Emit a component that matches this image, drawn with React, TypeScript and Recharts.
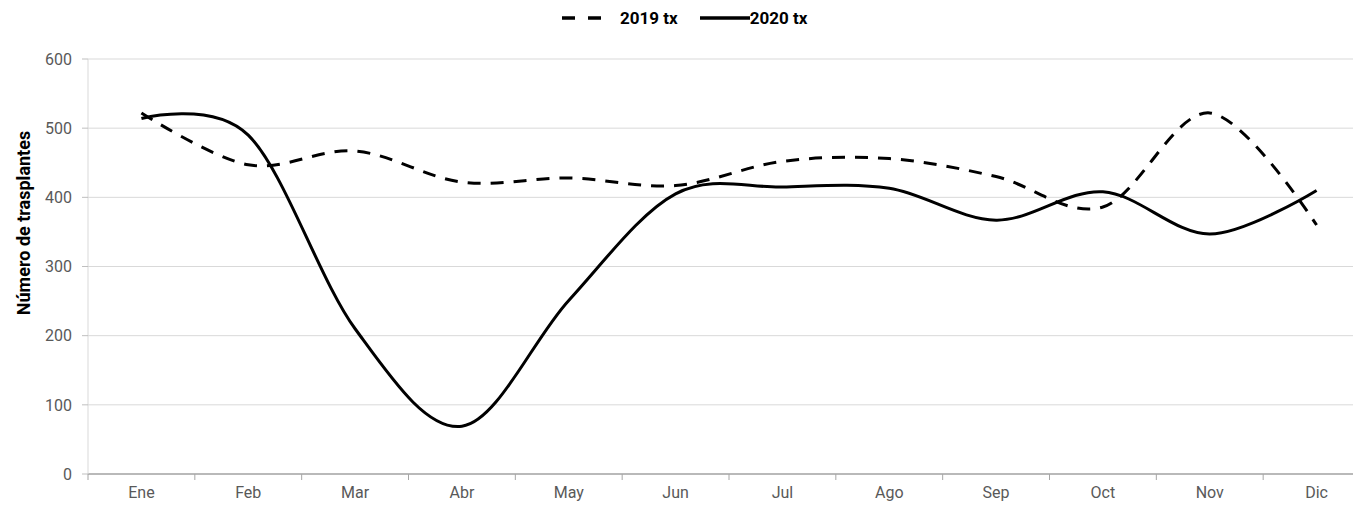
import React from 'react';
import { LineChart, Line, XAxis, YAxis, CartesianGrid, Legend } from 'recharts';

const months = ['Ene', 'Feb', 'Mar', 'Abr', 'May', 'Jun', 'Jul', 'Ago', 'Sep', 'Oct', 'Nov', 'Dic'];
const tx2019 = [522, 447, 467, 422, 428, 417, 452, 456, 430, 386, 522, 360];
const tx2020 = [514, 490, 210, 69, 251, 405, 415, 413, 367, 408, 347, 410];
const yTicks = [0, 100, 200, 300, 400, 500, 600];

const data = months.map((m, i) => ({ month: m, '2019 tx': tx2019[i], '2020 tx': tx2020[i] }));

const CHART_W = 1375;
const CHART_H = 509;
const MARGIN = { top: 59, right: 5, bottom: 0, left: 0 };
const Y_W = 88;
const PLOT_W = CHART_W - MARGIN.left - MARGIN.right - Y_W;
const BAND = PLOT_W / months.length;
const FONT = 'Roboto, "Noto Sans", sans-serif';

// Excel-like smoothed line (catmull-rom style bezier)
const excelSmooth = (context: any) => {
    let x0 = NaN, y0 = NaN, x1 = NaN, y1 = NaN, x2 = NaN, y2 = NaN;
    let pt = 0;
    let line: number = NaN;
    const k = 1 / 6;
    const seg = (x: number, y: number) =>
        context.bezierCurveTo(x1 + k * (x2 - x0), y1 + k * (y2 - y0), x2 + k * (x1 - x), y2 + k * (y1 - y), x2, y2);
    return {
        areaStart() { line = 0; },
        areaEnd() { line = NaN; },
        lineStart() { x0 = x1 = x2 = y0 = y1 = y2 = NaN; pt = 0; },
        lineEnd() {
            if (pt === 2) context.lineTo(x2, y2);
            else if (pt === 3) seg(x1, y1);
            if (line || (line !== 0 && pt === 1)) context.closePath();
            line = 1 - line;
        },
        point(x: number, y: number) {
            x = +x; y = +y;
            switch (pt) {
                case 0: pt = 1; if (line) context.lineTo(x, y); else context.moveTo(x, y); break;
                case 1: pt = 2; x1 = x; y1 = y; break;
                case 2: pt = 3; seg(x, y); break;
                default: seg(x, y); break;
            }
            x0 = x1; x1 = x2; x2 = x;
            y0 = y1; y1 = y2; y2 = y;
        },
    };
};

const XTick = (props: any) => {
    const { x, y, payload, index } = props;
    return (
        <g>
            <line x1={x - BAND / 2} x2={x - BAND / 2} y1={y} y2={y + 6} stroke="#a6a6a6" />
            {index === months.length - 1 && (
                <line x1={x + BAND / 2} x2={x + BAND / 2} y1={y} y2={y + 6} stroke="#a6a6a6" />
            )}
            <text x={x} y={y + 24} textAnchor="middle" fill="#595959" fontSize={16} fontFamily={FONT}>
                {payload.value}
            </text>
        </g>
    );
};

const renderLegend = (props: any) => {
    const { payload } = props;
    return (
        <div style={{ display: 'flex', alignItems: 'center', fontFamily: FONT, fontWeight: 'bold', fontSize: 17, color: '#000' }}>
            {payload.map((entry: any) => {
                const dashed = !!entry.payload.strokeDasharray;
                return (
                    <div key={entry.value} style={{ display: 'flex', alignItems: 'center', marginRight: dashed ? 22 : 0 }}>
                        <svg width={dashed ? 58 : 50} height={10}>
                            <line
                                x1={0}
                                x2={dashed ? 40 : 50}
                                y1={5}
                                y2={5}
                                stroke="#000"
                                strokeWidth={3.5}
                                strokeDasharray={dashed ? '13 13' : undefined}
                            />
                        </svg>
                        <span>{entry.value}</span>
                    </div>
                );
            })}
        </div>
    );
};

export default function App() {
    return (
        <div style={{ position: 'fixed', left: 0, top: 0, width: 1353, height: 509, overflow: 'hidden', background: '#fff' }}>
            <LineChart width={CHART_W} height={CHART_H} data={data} margin={MARGIN}>
                <CartesianGrid vertical={false} stroke="#d9d9d9" />
                <XAxis
                    dataKey="month"
                    height={35}
                    padding={{ left: BAND / 2, right: BAND / 2 }}
                    axisLine={{ stroke: '#868686' }}
                    tickLine={false}
                    tickSize={0}
                    tickMargin={0}
                    interval={0}
                    tick={<XTick />}
                />
                <YAxis
                    width={Y_W}
                    domain={[0, 600]}
                    ticks={yTicks}
                    interval={0}
                    axisLine={{ stroke: '#d9d9d9' }}
                    tickLine={{ stroke: '#bfbfbf' }}
                    tickSize={6}
                    tickMargin={10}
                    tick={{ fill: '#595959', fontSize: 16, fontFamily: FONT }}
                    label={{
                        content: () => (
                            <text
                                x={23}
                                y={223}
                                transform="rotate(-90 23 223)"
                                textAnchor="middle"
                                dominantBaseline="central"
                                fontFamily={FONT}
                                fontWeight="bold"
                                fontSize={18}
                                fill="#000"
                            >
                                Número de trasplantes
                            </text>
                        ),
                    }}
                />
                <Legend
                    verticalAlign="middle"
                    align="center"
                    content={renderLegend}
                    wrapperStyle={{ top: 8, left: 562, width: 320, height: 24 }}
                />
                <Line
                    dataKey="2019 tx"
                    type={excelSmooth as any}
                    stroke="#000"
                    strokeWidth={3}
                    strokeDasharray="13 10"
                    dot={false}
                    activeDot={false}
                    isAnimationActive={false}
                />
                <Line
                    dataKey="2020 tx"
                    type={excelSmooth as any}
                    stroke="#000"
                    strokeWidth={3}
                    dot={false}
                    activeDot={false}
                    isAnimationActive={false}
                />
            </LineChart>
        </div>
    );
}
